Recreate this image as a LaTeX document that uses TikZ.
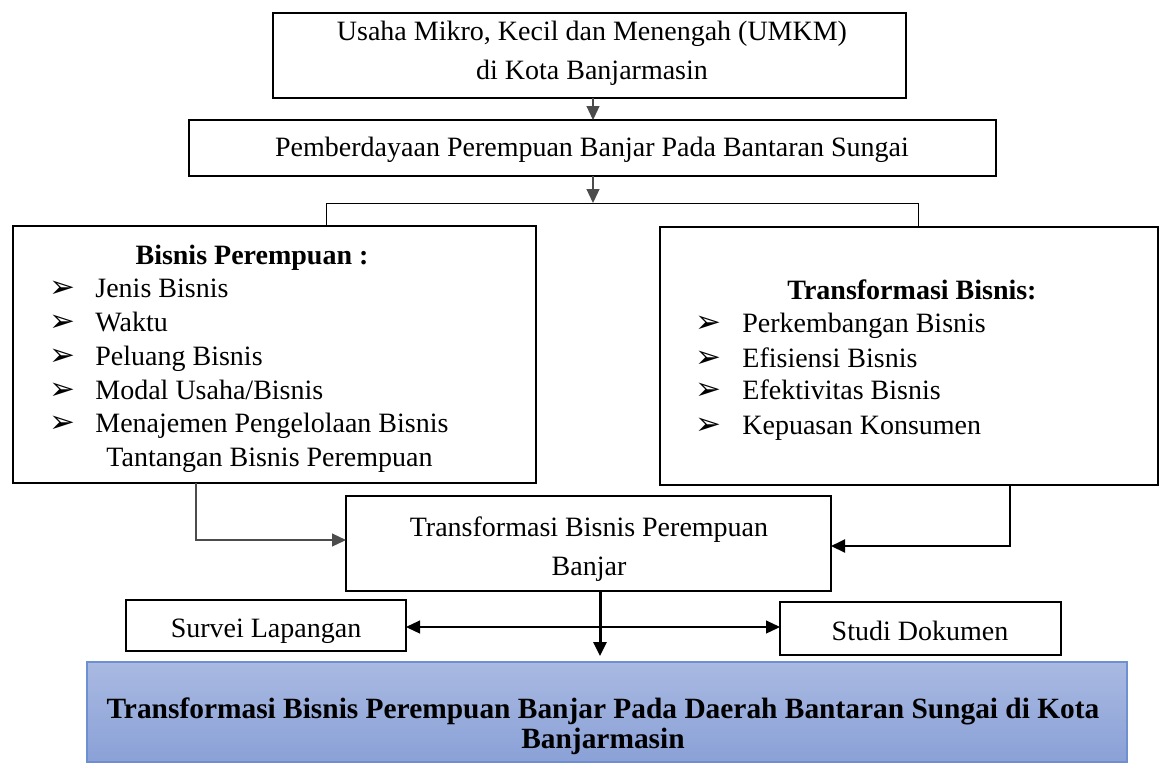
\documentclass[tikz,border=0pt]{standalone}
\usepackage{fontspec}
\setmainfont{Liberation Serif}
\newfontfamily\djv{DejaVu Sans}
\usetikzlibrary{arrows.meta,calc}
\definecolor{blueT}{HTML}{A9B9E1}
\definecolor{blueB}{HTML}{8AA1D7}
\definecolor{blueBd}{HTML}{6F90D0}
\begin{document}
\begin{tikzpicture}[x=0.5pt,y=-0.5pt,
  box/.style={draw=black,line width=1.25pt,inner sep=0pt,outer sep=0pt,fill=white,align=center,font=\fontsize{14}{19}\selectfont},
  txt/.style={inner sep=0pt,align=center,font=\fontsize{14}{19.5}\selectfont},
  conn/.style={draw=black!70,line width=0.6pt},
  tip/.style={-{Triangle[length=7pt,width=6.5pt]}},
  item/.style={anchor=base west,inner sep=0pt,font=\fontsize{14}{17}\selectfont},
  ttl/.style={anchor=base,inner sep=0pt,font=\bfseries\fontsize{14}{17}\selectfont},
  bul/.style={anchor=base west,inner sep=0pt,font=\djv\fontsize{15.5}{16}\selectfont},
]
\useasboundingbox (0,0) rectangle (1161,762);
% boxes
\node[box,minimum width=316.5pt,minimum height=42.5pt] (umkm) at (589.5,55.5) {};
\node[txt] (umkmtxt) at (592,53) {Usaha Mikro, Kecil dan Menengah (UMKM)\\di Kota Banjarmasin};
\node[box,minimum width=403.5pt,minimum height=28pt] (pemb) at (592.5,148) {};
\node[txt] (pembtxt) at (592,150) {Pemberdayaan Perempuan Banjar Pada Bantaran Sungai};
\node[box,minimum width=261.5pt,minimum height=128.5pt] (lbox) at (274.5,354.5) {};
\node[box,minimum width=249pt,minimum height=129pt] (rbox) at (909,356) {};
\node[box,minimum width=242.5pt,minimum height=47.5pt] (tbp) at (588.5,543.5) {};
\node[txt] (tbptxt) at (589,549) {Transformasi Bisnis Perempuan\\Banjar};
\node[box,minimum width=140pt,minimum height=25.5pt] (survei) at (266,625.5) {};
\node[txt] (surveitxt) at (266,631) {Survei Lapangan};
\node[box,minimum width=140.5pt,minimum height=26.5pt] (studi) at (920.5,628.5) {};
\node[txt] (studitxt) at (920,631) {Studi Dokumen};
\node[draw=blueBd,line width=0.6pt,top color=blueT,bottom color=blueB,minimum width=520pt,minimum height=50pt,inner sep=0pt,outer sep=0pt] (blue) at (607,712) {};
\node[inner sep=0pt,align=center,font=\bfseries\fontsize{14.7}{14.8}\selectfont] (bluetxt) at (603,726) {Transformasi Bisnis Perempuan Banjar Pada Daerah Bantaran Sungai di Kota\\Banjarmasin};
% left list
\node[ttl] (lt) at (252,264) {Bisnis Perempuan :};
\foreach \y/\t [count=\i] in {297/{Jenis Bisnis},331/{Waktu},365/{Peluang Bisnis},399/{Modal Usaha/Bisnis},432/{Menajemen Pengelolaan Bisnis}}{
  \node[bul] (lb\i) at (49,\y) {➢};
  \node[item] (li\i) at (95,\y) {\t};
}
\node[item] (li6) at (106,466) {Tantangan Bisnis Perempuan};
% right list
\node[ttl] (rt) at (912,299) {Transformasi Bisnis:};
\foreach \y/\t [count=\i] in {332/{Perkembangan Bisnis},367/{Efisiensi Bisnis},399/{Efektivitas Bisnis},434/{Kepuasan Konsumen}}{
  \node[bul] (rb\i) at (695,\y) {➢};
  \node[item] (ri\i) at (742,\y) {\t};
}
% coordinates
\coordinate (ax) at (593,0);
\coordinate (tl) at (326,203);
\coordinate (tr) at (918,203);
\coordinate (lc) at (196,540);
\coordinate (rc) at (1010,546);
\coordinate (tx) at (600,0);
\coordinate (dy) at (0,627);
% connectors
\draw[conn,tip] (umkm.south -| ax) -- (pemb.north -| ax);
\draw[conn,tip] (pemb.south -| ax) -- (tl -| ax);
\draw[draw=black,line width=0.5pt] (lbox.north -| tl) -- (tl) -- (tr) -- (rbox.north -| tr);
\draw[conn,tip] (lbox.south -| lc) |- (tbp.west |- lc);
\draw[draw=black,line width=1pt,tip] (rbox.south -| rc) |- (tbp.east |- rc);
\draw[draw=black,line width=0.6pt,{Triangle[length=7pt,width=6.5pt]}-{Triangle[length=7pt,width=6.5pt]}] (survei.east |- dy) -- (studi.west |- dy);
\draw[draw=black,line width=1.5pt,tip] (tbp.south -| tx) -- ($(blue.north -| tx)+(0,-6)$);
\end{tikzpicture}
\end{document}
